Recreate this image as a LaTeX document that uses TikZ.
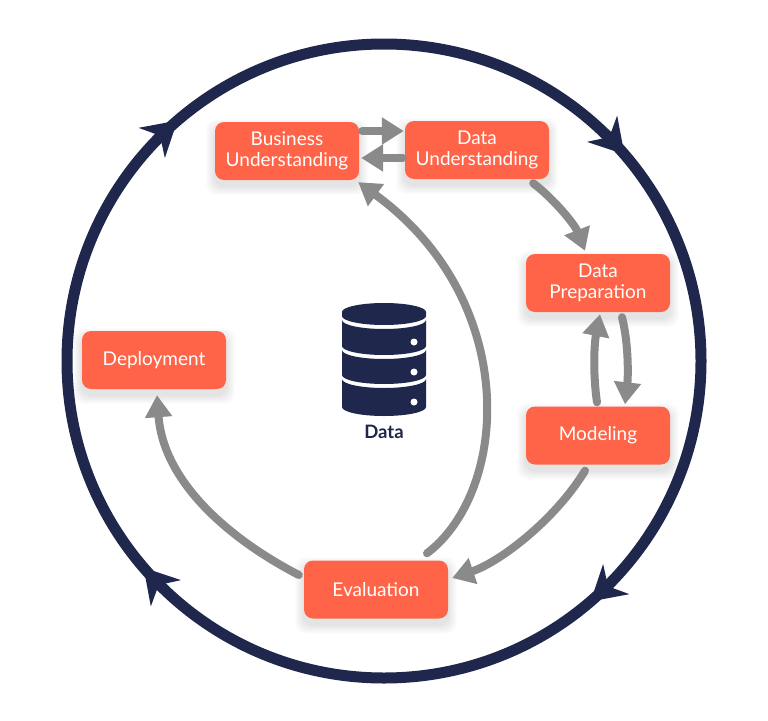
\documentclass[tikz,border=0pt]{standalone}
\usepackage{fontspec}
\setmainfont{Lato}
\usetikzlibrary{arrows.meta,decorations.markings,calc,backgrounds}
\definecolor{navy}{RGB}{31,39,77}
\definecolor{boxorange}{RGB}{255,100,72}
\definecolor{arrowgray}{RGB}{138,138,138}
\begin{document}
\begin{tikzpicture}[x=1pt,y=-1pt,
  stepbox/.style={fill=boxorange, rounded corners=9pt, minimum width=144pt, minimum height=58pt,
    inner sep=0pt, align=center, text=white, font=\fontsize{19}{20.5}\selectfont},
  flow/.style={draw=arrowgray, line width=8pt, line cap=round, -{Triangle[length=22pt,width=26pt]}},
  cyclehead/.style={}
]
\useasboundingbox (0,0) rectangle (768,720);

% outer cycle
\draw[navy, line width=11pt, postaction={decorate}, decoration={markings,
  mark=at position 0.136 with {\fill[navy] (2,0) -- (-32,20) -- (-21,0) -- (-32,-20) -- cycle;},
  mark=at position 0.386 with {\fill[navy] (2,0) -- (-32,20) -- (-21,0) -- (-32,-20) -- cycle;},
  mark=at position 0.636 with {\fill[navy] (2,0) -- (-32,20) -- (-21,0) -- (-32,-20) -- cycle;},
  mark=at position 0.886 with {\fill[navy] (2,0) -- (-32,20) -- (-21,0) -- (-32,-20) -- cycle;}}]
  (701,361) arc[start angle=0, end angle=-360, radius=317pt];

% boxes
\node[stepbox] (BU) at (287,151) {Business\\Understanding};
\node[stepbox] (DU) at (477,150) {Data\\Understanding};
\node[stepbox] (DP) at (598,283) {Data\\Preparation};
\node[stepbox] (MO) at (598,435.5) {Modeling};
\node[stepbox] (DE) at (154,360) {Deployment};
\node[stepbox] (EV) at (376,589.5) {Evaluation};

% background + soft shadows
\begin{scope}[on background layer]
  \fill[white] (0,0) rectangle (768,720);
  \foreach \n in {BU,DU,DP,MO,DE,EV}{
    \foreach \i in {1,...,9}{
      \fill[black, opacity=0.011, rounded corners=11pt]
        ($(\n.north west)+(-\i,-\i+6)$) rectangle ($(\n.south east)+(\i,\i+6)$);
    }
  }
\end{scope}

% database icon
\fill[navy] (342,316) arc[start angle=180,end angle=360,x radius=42pt,y radius=9pt]
  -- (426,312) arc[start angle=0,end angle=180,x radius=42pt,y radius=9pt] -- cycle;
\fill[navy] (342,320) arc[start angle=180,end angle=360,x radius=42pt,y radius=9pt]
  -- (426,346) arc[start angle=0,end angle=-180,x radius=42pt,y radius=9pt] -- cycle;
\fill[navy] (342,350) arc[start angle=180,end angle=360,x radius=42pt,y radius=9pt]
  -- (426,375) arc[start angle=0,end angle=-180,x radius=42pt,y radius=9pt] -- cycle;
\fill[navy] (342,379) arc[start angle=180,end angle=360,x radius=42pt,y radius=9pt]
  -- (426,407) arc[start angle=0,end angle=-180,x radius=42pt,y radius=9pt] -- cycle;
\fill[white] (414,342) circle[radius=3.5pt];
\fill[white] (414,372) circle[radius=3.5pt];
\fill[white] (414,402) circle[radius=3.5pt];
\node[anchor=base, text=navy, inner sep=0pt, font=\fontsize{18.5}{20}\selectfont\bfseries] (datalbl) at (384,438) {Data};

% flow arrows
\draw[flow] ($(BU.east)+(3,-20)$) -- ($(DU.west)+(-1,-19)$);
\draw[flow] ($(DU.west)+(-2,8)$) -- ($(BU.east)+(2,7)$);
\draw[flow] ($(DU.south east)+(-16,4)$) .. controls (555,200) and (575,225) .. ($(DP.north)+(-13,-3)$);
\draw[flow] ($(DP.south)+(24,5)$) .. controls (629,345) and (628,378) .. ($(MO.north)+(27,-2)$);
\draw[flow] ($(MO.north)+(-1,-4)$) .. controls (593,375) and (594,345) .. ($(DP.south)+(2,2)$);
\draw[flow] ($(MO.south)+(-13,6)$) .. controls (555,520) and (500,562) .. ($(EV.east)+(4,-11.5)$);
\draw[flow] ($(EV.west)+(-5,-14.5)$) .. controls (222,535) and (163,478) .. ($(DE.south)+(3,6)$);
\draw[flow] ($(EV.north)+(51,-7)$) .. controls (510,490) and (520,300) .. ($(BU.south east)+(-1,2)$);
\end{tikzpicture}
\end{document}
